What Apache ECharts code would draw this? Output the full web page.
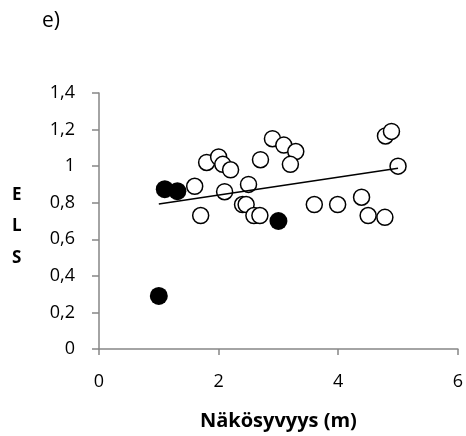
<!DOCTYPE html>
<html><head><meta charset="utf-8">
<script src="https://cdn.jsdelivr.net/npm/echarts@6/dist/echarts.min.js"></script>
<style>html,body{margin:0;padding:0;background:#fff}#c{width:466px;height:436px}</style>
</head><body><div id="c"></div>
<script>
const hollowX = [1.6,1.7,1.8,2.0,2.07,2.2,2.1,2.5,2.4,2.46,2.59,2.69,2.7,2.9,3.09,3.29,3.2,3.6,3.99,4.39,4.5,4.78,4.79,4.89,5.0];
const hollowY = [0.89,0.73,1.02,1.05,1.01,0.98,0.86,0.90,0.79,0.79,0.73,0.73,1.035,1.15,1.115,1.08,1.01,0.79,0.79,0.83,0.73,0.72,1.165,1.19,1.0];
const filledX = [1.1,1.31,3.0,1.0];
const filledY = [0.874,0.863,0.70,0.29];
const trendX = [1.0,5.0];
const trendY = [0.793,0.989];
const xTicks = [0,2,4,6];
const yTicks = [0,0.2,0.4,0.6,0.8,1.0,1.2,1.4];
const FONT = 'Open Sans';
const zip = (a,b)=>a.map((v,i)=>[v,b[i]]);
const chart = echarts.init(document.getElementById('c'), null, {renderer:'canvas'});
chart.setOption({
  animation:false,
  backgroundColor:'#fff',
  grid:{left:99,right:7,top:93,bottom:83,containLabel:false},
  xAxis:{type:'value',min:xTicks[0],max:xTicks[xTicks.length-1],interval:2,
    axisLine:{show:true,onZero:false,lineStyle:{color:'#868686',width:1.5}},
    axisTick:{show:true,length:6,lineStyle:{color:'#868686',width:1.5}},
    splitLine:{show:false},
    axisLabel:{margin:24,color:'#000',fontFamily:FONT,fontSize:18},
    name:'Näkösyvyys (m)',nameLocation:'middle',nameGap:62,
    nameTextStyle:{color:'#000',fontFamily:FONT,fontSize:20,fontWeight:'bold'}},
  yAxis:{type:'value',min:yTicks[0],max:yTicks[yTicks.length-1],interval:0.2,
    axisLine:{show:true,onZero:false,lineStyle:{color:'#868686',width:1.5}},
    axisTick:{show:true,length:7,lineStyle:{color:'#868686',width:1.5}},
    splitLine:{show:false},
    axisLabel:{margin:24,color:'#000',fontFamily:FONT,fontSize:18,
      formatter:v=>String(Math.round(v*10)/10).replace('.',',')}},
  graphic:[
    {type:'text',left:42,top:11,style:{text:'e)',fill:'#000',font:'21px "'+FONT+'"'}},
    {type:'text',left:12,top:179,style:{text:'E\nL\nS',fill:'#000',font:'bold 17px "'+FONT+'"',lineHeight:31.5,textAlign:'center'}}
  ],
  series:[
    {type:'scatter',data:zip(hollowX,hollowY),symbol:'circle',symbolSize:16,z:2,
      itemStyle:{color:'#fff',borderColor:'#000',borderWidth:1.5,opacity:1}},
    {type:'scatter',data:zip(filledX,filledY),symbol:'circle',symbolSize:18,z:3,
      itemStyle:{color:'#000',borderColor:'#000',borderWidth:0,opacity:1}},
    {type:'line',data:zip(trendX,trendY),symbol:'none',z:4,
      lineStyle:{color:'#000',width:1.5}}
  ]
});
</script></body></html>
